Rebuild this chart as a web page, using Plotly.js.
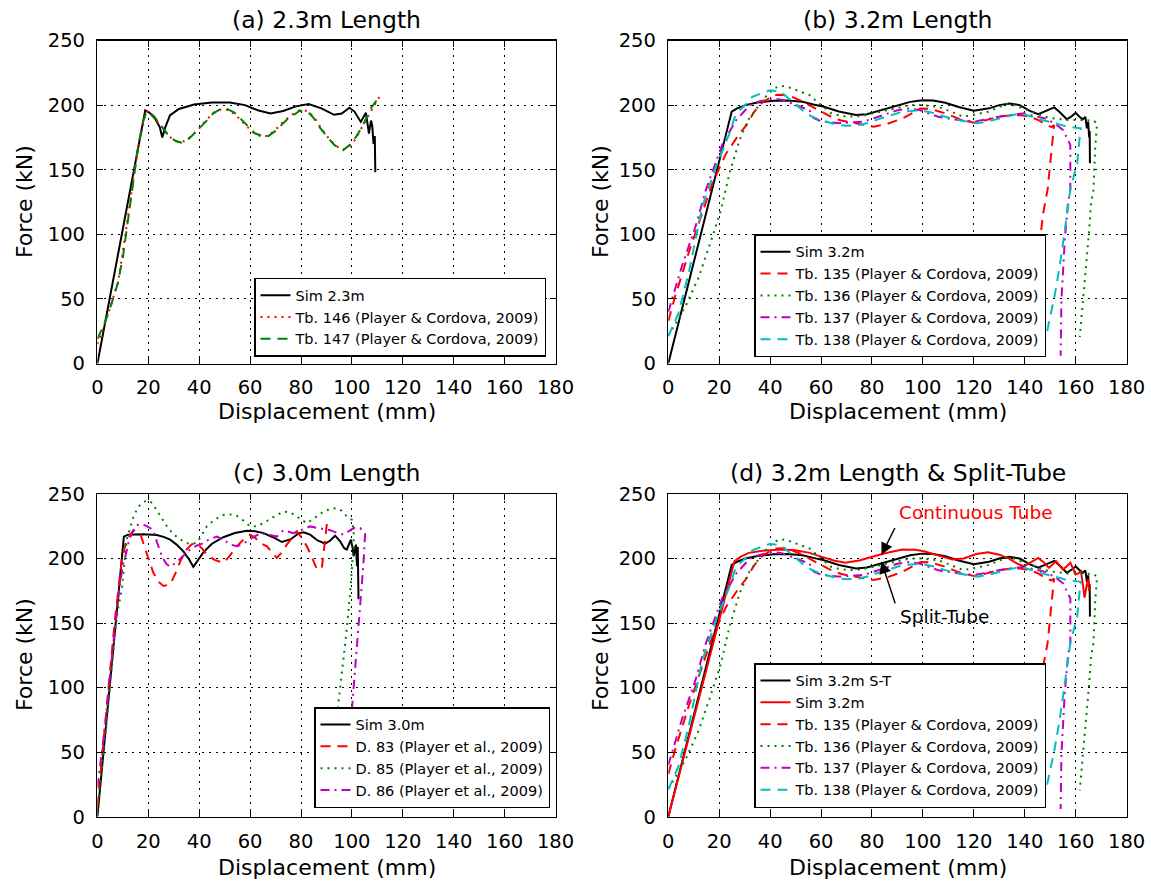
<!DOCTYPE html>
<html>
<head>
<meta charset="utf-8">
<script src="https://cdn.plot.ly/plotly-3.0.1.min.js"></script>
<style>
html,body{margin:0;padding:0;background:#fff;}
#chart{width:1151px;height:888px;}
</style>
</head>
<body>
<div id="chart"></div>
<script>
// ---------- axis ticks ----------
const xTicks = [0,20,40,60,80,100,120,140,160,180];
const yTicks = [0,50,100,150,200,250];

// ---------- panel (a) 2.3m ----------
const a_sim_x = [0,18.8,20.5,22.5,24.5,25.5,26.5,28.5,32,38,45,52,58,63,68,73,78,83,88,93,96,99,101,103.5,105.5,106.7,107.5,108,108.5,109,109.2];
const a_sim_y = [0,196,194,190,183,175,182,192,197,200.5,202,202,200,196,193.5,195.5,199,200.8,197.5,192.5,193.5,198,195,187,194,178,188,184,170,176,148];
const a_tb146_x = [0,2.8,5.6,8.1,9.5,10.9,12.5,14.5,16.5,18.5,19.5,22,25,28,31,34,37,40,43,46,49,52,55,58,61,64,67,70,73,76,79.5,82.5,85,88,91,94,96.5,99,101.5,104,106,108,110,111.5];
const a_tb146_y = [15,30,47,63,80,97,120,148,172,190,195,191,184,176,172,172,176,182,189,194.5,197,196,191,185,179,176,176,181,187,192,196,195.5,191,182,174,168,165.5,168,174,183,190,198,204,208];
const a_tb147_x = [0,3,5.5,8,10,12,14,16,18,19.5,22,24,26.5,28.5,31,33,36,39.6,42.5,45.5,48,51,54,57,59.2,62,66.4,70,74.3,77,79.5,82.6,85,87.3,90,93.2,96.5,99.1,101.5,103.7,105.5,107.6,109.5,110.9];
const a_tb147_y = [19,32,46,62,82,110,140,168,188,195,192,187,180,175,172,171,174,180.8,187,193.6,196.5,197,194,188,183.3,178,175,180,188.5,192.5,195.6,195,190,183,176,169,165,169,175,182,189,198,203,207.7];

// ---------- panel (b)/(d) 3.2m ----------
const b_sim_x = [0,24.9,27,30.3,35,41.5,47,52.7,57,61.1,67,73.7,78,83.5,90,95,99.7,104,108.8,114,120,126,130,134,138,142,145.3,148.5,151.6,154,156.5,158.5,160,161.5,162.8,163.8,164.4,164.9,165.3,165.5,165.6];
const b_sim_y = [0,195,197.5,200,202,203.3,203.5,202.6,200.5,198.7,195,192.3,193,196,200,202.5,203.8,203.5,201.8,198.5,195.6,197.5,200,201.3,200,195.5,193,195.5,198.2,194,189,191.5,194,191,189,190.8,182,187,175,180,155];
const b_tb135_x = [0,2.7,8,12,17.3,22.7,28,30.7,33.8,37,41.5,45,48.5,52,55.5,60,63.9,68,73.7,80.7,86,92,96,99,103,108.8,114,120,125,129.8,134,138.2,142,145.3,148,150.5,151.5,150.5,149,147.2,146,144.5,143.5];
const b_tb135_y = [33,52,85.6,108.5,139.4,162.6,178,184.5,195,202,207.7,208,206.4,203.5,200,195,191,188,186,183.3,185.5,189.7,194,197.4,197,193.6,189.5,186.4,188.5,191,192,192.3,191,188.5,185,183,184.5,165,135,116,95,60,30];
const b_tb136_x = [0,2,6.7,12,17.3,20.7,24,26,28,31.3,34.7,38,41.5,44,47,51,55.5,60,64,68,73.7,78,83.5,89,94.7,100,106,111,115.8,120,125.6,130,134,137,141,144.5,148,152,156.5,160.5,164.9,167,168.4,167.7,167,166,165.2,164,162.9,161.6];
const b_tb136_y = [22,28,44,67,98,119,147,160,173,188.4,197,206,212.8,215,214,211,207.7,200,193.6,191.5,191,192.5,194.9,197.5,200,200,198.7,195,191,192.5,194.9,198.5,201.3,199,196,193.5,191,189.5,188.5,188.5,188.5,188,186,168,134.6,123,100.7,75,49,20.4];
const b_tb137_x = [0,5.3,10.7,14.7,21.3,26.7,32,36,41.5,45,48.5,52,55.5,57,60,66.7,71,76.5,81,86.3,90,94.7,99,103,106,112,120,125,129.8,135,139.6,144,148,152,155,157.9,158,157.9,157,155.7,155,154.4,154.1];
const b_tb137_y = [40,75,106,134,170,188.4,200,203,205,204,201.3,198.5,196,190,187.5,186,186.5,187.2,190,193.6,196,197.4,196,193,191,189,187.2,189,191,192.5,193.6,191.5,189.7,185.5,180.8,169.2,150,134.6,125,95.4,70,49,6];
const b_tb138_x = [0,4,8,13.3,18.7,24,26,28,30.7,33,36.5,40,44.3,48,52.7,56,59.7,66.7,70,75.1,79,83.5,88,92,99,104,108.8,115,121.4,127,132.6,138.2,142,146.6,152,156.5,160,162,161.3,160.6,157.9,157,155.5,153.7,151.5,149.8,148.5];
const b_tb138_y = [21,39,70,121,152,178,190,196,201,206.4,209,211.5,210.2,204,196,191.5,188.5,184.6,184,184.6,186.5,189.7,192.5,194.9,196,194,191,188,185.9,188,191,193.6,191.5,188.5,186,183.3,182.5,182,170,155,134.6,123,100,74.8,50,34.7,22];
// continuous-tube simulation (panel d, red solid)
const d_sim_x = [0,26,28.5,31.6,37,44.3,50,55.5,60,65,69.5,75,80.8,86,92,97,100.4,106,111.6,116,121,125.6,130,134,137,139.6,142.5,145.3,147.5,149.5,151,152.3,153.5,155,156.5,157.9,159,160,161,162.1,162.8,163.5,164.2,164.9,165.3];
const d_sim_y = [0,198,201.5,204.4,206,207,206.5,204.4,201.5,198.5,196.7,198.5,201.8,204.5,207,206.8,205.6,202.5,199.2,200,203.5,204.9,203,199.7,196,194,197,200.5,197,192.8,195.5,198,195,191.5,194,196.7,192,187.7,188.5,190,180,169.7,178,183.8,175];

// ---------- panel (c) 3.0m ----------
const c_sim_x = [0,10.4,12,14.2,18,23.3,26,28.6,31,33.8,36,37.7,39,41.7,45,49.5,54,58.7,62,65.3,69,72.5,76,79,81,83.6,86.5,89.5,91.5,93.4,95.4,97,98,99.6,100.3,100.7,101.2,101.6,102,102.3,102.6];
const c_sim_y = [0,217,218.5,218.8,218.8,218.2,216.8,214.6,211,205.6,199.5,193.6,197,205,211.5,216.5,219.8,221.5,221.2,219.7,216.5,212.8,215,219.5,220.3,218.5,214,211.5,214,217.7,213.3,208,207,214.6,208,201.8,207,210.8,194,209,168.5];
const c_d83_x = [0,3,6.9,9.6,11.5,14.2,16.8,19,22,24,26,28.6,31,33,35,37,39,41,43,46,49.5,52,54.8,57,60,62,64,66.6,68.5,70.5,72.5,74.4,76.5,78.4,80.3,82.3,84.5,86.3,88.2,89.2,90.2,91];
const c_d83_y = [8,70,153,199,215,222,219.7,206,189,182,178.7,180,190,200,207,211,212,208,203,199,196.7,202,209.5,214,218.5,216,212,209.5,205,200.5,205,210.8,216,221,216,209.5,200,191.5,192.8,210,227.4,228];
const c_d85_x = [0,3,6,8,9.6,11.5,14.2,16,18.1,20.1,21.5,23.3,25,27.3,30,33.8,36,39,41,43,46,49.5,52,54.8,57,60,62.5,65.3,69,73.1,76,78.4,80.5,82.3,85,88.9,91.5,94.1,96,98,100,100.7,100.7,99.3,97.4,95.4,94.1,93,92];
const c_d85_y = [5,60,125,160,176,214.6,232.6,240,244,245,243,237.7,232,225,218.5,213.3,211.5,212,218,225,230,233.8,234.2,233,230,225,225,227.4,232,236.4,235.5,232.6,229.5,227.4,231,236.4,238.5,239,237,232.6,230,222,211.5,173,134.6,101,78,50,20];
const c_d86_x = [0,3,6,8.5,10,11.3,12.5,14.2,15.8,17.4,19.5,22,23.5,25.3,27,28.6,31,33.5,36.4,39,41.7,44,47,50,52,54.8,57,60,64,67,70.5,73.1,75,77,80,83.6,87,91.5,94,96.7,99,100.7,103.3,105.2,104.5,103.9,102.6,101.3,100,99.5,99];
const c_d86_y = [23,70,130,175,195,204,215,222,226,227,225,222,212,201.8,196,193.6,197,202,207,210,212,215,217,214,211,209.5,211,215,219.7,218.5,217,222,221,219.7,222,224.9,223.5,222,220,218.5,221.5,223.6,223.6,219,195,180,152.6,121.8,83,50,20];

// ---------- colours (matplotlib classic) ----------
const K = '#000000', R = '#ff0000', G = '#008000', M = '#bf00bf', C = '#00bfbf';
const DASH = '10px,7px', DOT = '2px,5px', DASHDOT = '9px,5px,2px,5px';

function tr(x, y, name, color, dash, xa, ya, leg, w) {
  return {x: x, y: y, name: name, type: 'scatter', mode: 'lines',
    line: {color: color, width: w || 2, dash: dash || 'solid'},
    xaxis: xa, yaxis: ya, legend: leg, hoverinfo: 'skip'};
}

const data = [
  tr(a_sim_x, a_sim_y, 'Sim 2.3m', K, 'solid', 'x', 'y', 'legend'),
  tr(a_tb146_x, a_tb146_y, 'Tb. 146 (Player &amp; Cordova, 2009)', R, DOT, 'x', 'y', 'legend'),
  tr(a_tb147_x, a_tb147_y, 'Tb. 147 (Player &amp; Cordova, 2009)', G, DASH, 'x', 'y', 'legend'),

  tr(b_sim_x, b_sim_y, 'Sim 3.2m', K, 'solid', 'x2', 'y2', 'legend2'),
  tr(b_tb135_x, b_tb135_y, 'Tb. 135 (Player &amp; Cordova, 2009)', R, DASH, 'x2', 'y2', 'legend2'),
  tr(b_tb136_x, b_tb136_y, 'Tb. 136 (Player &amp; Cordova, 2009)', G, DOT, 'x2', 'y2', 'legend2'),
  tr(b_tb137_x, b_tb137_y, 'Tb. 137 (Player &amp; Cordova, 2009)', M, DASHDOT, 'x2', 'y2', 'legend2'),
  tr(b_tb138_x, b_tb138_y, 'Tb. 138 (Player &amp; Cordova, 2009)', C, DASH, 'x2', 'y2', 'legend2'),

  tr(c_sim_x, c_sim_y, 'Sim 3.0m', K, 'solid', 'x3', 'y3', 'legend3'),
  tr(c_d83_x, c_d83_y, 'D. 83 (Player et al., 2009)', R, DASH, 'x3', 'y3', 'legend3'),
  tr(c_d85_x, c_d85_y, 'D. 85 (Player et al., 2009)', G, DOT, 'x3', 'y3', 'legend3'),
  tr(c_d86_x, c_d86_y, 'D. 86 (Player et al., 2009)', M, DASHDOT, 'x3', 'y3', 'legend3'),

  tr(b_sim_x, b_sim_y, 'Sim 3.2m S-T', K, 'solid', 'x4', 'y4', 'legend4'),
  tr(d_sim_x, d_sim_y, 'Sim 3.2m', R, 'solid', 'x4', 'y4', 'legend4'),
  tr(b_tb135_x, b_tb135_y, 'Tb. 135 (Player &amp; Cordova, 2009)', R, DASH, 'x4', 'y4', 'legend4'),
  tr(b_tb136_x, b_tb136_y, 'Tb. 136 (Player &amp; Cordova, 2009)', G, DOT, 'x4', 'y4', 'legend4'),
  tr(b_tb137_x, b_tb137_y, 'Tb. 137 (Player &amp; Cordova, 2009)', M, DASHDOT, 'x4', 'y4', 'legend4'),
  tr(b_tb138_x, b_tb138_y, 'Tb. 138 (Player &amp; Cordova, 2009)', C, DASH, 'x4', 'y4', 'legend4')
];

const FONT = 'DejaVu Sans, sans-serif';
const W = 1151, H = 888;
const XA = [97.4/W, 555.5/W], XB = [668.3/W, 1126.6/W];
const YT = [(H-363.5)/H, (H-40.5)/H], YB = [(H-816.7)/H, (H-494)/H];

function xax(dom, anchor) {
  return {domain: dom, anchor: anchor, range: [0,180], tickmode: 'array', tickvals: xTicks,
    ticktext: xTicks.map(String), showgrid: true, gridcolor: '#000', gridwidth: 1, griddash: '2px,5px',
    showline: true, linecolor: '#000', linewidth: 1.5, mirror: 'allticks', ticks: 'inside',
    ticklen: 6, tickwidth: 1, tickcolor: '#000', zeroline: false, fixedrange: true,
    tickfont: {family: FONT, size: 19.5, color: '#000'}, ticklabelstandoff: 6};
}
function yax(dom, anchor) {
  return {domain: dom, anchor: anchor, range: [0,250], tickmode: 'array', tickvals: yTicks,
    ticktext: yTicks.map(String), showgrid: true, gridcolor: '#000', gridwidth: 1, griddash: '2px,5px',
    showline: true, linecolor: '#000', linewidth: 1.5, mirror: 'allticks', ticks: 'inside',
    ticklen: 6, tickwidth: 1, tickcolor: '#000', zeroline: false, fixedrange: true,
    tickfont: {family: FONT, size: 19.5, color: '#000'}, ticklabelstandoff: 7};
}
function leg(xr, yb) {
  return {x: xr/W, xanchor: 'right', y: (H-yb)/H, yanchor: 'bottom', bgcolor: '#fff',
    bordercolor: '#000', borderwidth: 1.5, itemwidth: 30, tracegroupgap: 0,
    font: {family: FONT, size: 14.5, color: '#000'}};
}

function txt(text, x, y, size, rot, color) {
  return {text: text, xref: 'paper', yref: 'paper', x: x/W, y: (H-y)/H, xanchor: 'center',
    yanchor: 'middle', showarrow: false, textangle: rot || 0,
    font: {family: FONT, size: size, color: color || '#000'}};
}

const annotations = [
  txt('(a) 2.3m Length', 326.5, 20, 23.5),
  txt('(b) 3.2m Length', 897.5, 20, 23.5),
  txt('(c) 3.0m Length', 326.5, 473, 23.5),
  txt('(d) 3.2m Length &amp; Split-Tube', 897.5, 473, 23.5),
  txt('Displacement (mm)', 326.5, 411, 22),
  txt('Displacement (mm)', 897.5, 411, 22),
  txt('Displacement (mm)', 326.5, 867, 22),
  txt('Displacement (mm)', 897.5, 867, 22),
  txt('Force (kN)', 24, 202, 22, -90),
  txt('Force (kN)', 600, 202, 22, -90),
  txt('Force (kN)', 24, 655, 22, -90),
  txt('Force (kN)', 600, 655, 22, -90),
  {text: 'Continuous Tube', xref: 'x4', yref: 'y4', x: 120.9, y: 235.4, showarrow: false,
   xanchor: 'center', yanchor: 'middle', font: {family: FONT, size: 18.5, color: R}},
  {text: 'Split-Tube', xref: 'x4', yref: 'y4', x: 108.3, y: 155, showarrow: false,
   xanchor: 'center', yanchor: 'middle', font: {family: FONT, size: 18.5, color: '#000'}},
  {text: '', xref: 'x4', yref: 'y4', x: 83.7, y: 202.9, axref: 'x4', ayref: 'y4', ax: 89.3, ay: 224.8,
   showarrow: true, arrowhead: 2, arrowsize: 1.6, arrowwidth: 1.5, arrowcolor: '#000', standoff: 0},
  {text: '', xref: 'x4', yref: 'y4', x: 83.7, y: 197.7, axref: 'x4', ayref: 'y4', ax: 89.3, ay: 164.1,
   showarrow: true, arrowhead: 2, arrowsize: 1.6, arrowwidth: 1.5, arrowcolor: '#000', standoff: 0}
];

const layout = {
  width: W, height: H, margin: {l: 0, r: 0, t: 0, b: 0}, paper_bgcolor: '#fff', plot_bgcolor: '#fff',
  font: {family: FONT, color: '#000'}, showlegend: true,
  xaxis: xax(XA, 'y'), yaxis: yax(YT, 'x'),
  xaxis2: xax(XB, 'y2'), yaxis2: yax(YT, 'x2'),
  xaxis3: xax(XA, 'y3'), yaxis3: yax(YB, 'x3'),
  xaxis4: xax(XB, 'y4'), yaxis4: yax(YB, 'x4'),
  legend: leg(546, 356.7),
  legend2: leg(1046, 357.3),
  legend3: leg(550, 808),
  legend4: leg(1046, 808),
  annotations: annotations
};

Plotly.newPlot('chart', data, layout, {staticPlot: true, displayModeBar: false});
</script>
</body>
</html>
